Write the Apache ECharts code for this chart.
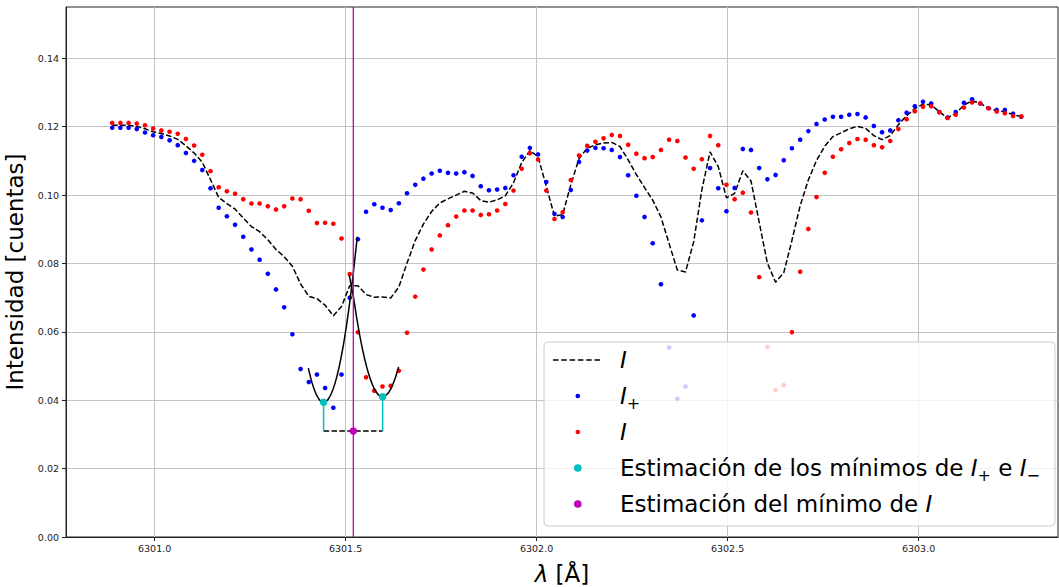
<!DOCTYPE html>
<html>
<head>
<meta charset="utf-8">
<script src="https://cdn.jsdelivr.net/npm/echarts@6.0.0/dist/echarts.min.js"></script>
<style>
  html, body { margin: 0; padding: 0; background: #fff; }
  #chart { width: 1059px; height: 587px; }
</style>
</head>
<body>
<div id="chart"></div>
<script>
// ---- data ----
const wavelengths = [
  6300.8890, 6300.9104, 6300.9319, 6300.9533, 6300.9748, 6300.9962,
  6301.0176, 6301.0391, 6301.0605, 6301.0820, 6301.1034, 6301.1248, 6301.1463, 6301.1677, 6301.1892, 6301.2106,
  6301.2320, 6301.2535, 6301.2749, 6301.2964, 6301.3178, 6301.3392, 6301.3607, 6301.3821, 6301.4036, 6301.4250,
  6301.4464, 6301.4679, 6301.4893, 6301.5108, 6301.5322, 6301.5536, 6301.5751, 6301.5965, 6301.6180, 6301.6394,
  6301.6608, 6301.6823, 6301.7037, 6301.7252, 6301.7466, 6301.7680, 6301.7895, 6301.8109, 6301.8324, 6301.8538,
  6301.8752, 6301.8967, 6301.9181, 6301.9396, 6301.9610, 6301.9824, 6302.0039, 6302.0253, 6302.0468, 6302.0682,
  6302.0896, 6302.1111, 6302.1325, 6302.1540, 6302.1754, 6302.1968, 6302.2183, 6302.2397, 6302.2612, 6302.2826,
  6302.3040, 6302.3255, 6302.3469, 6302.3684, 6302.3898, 6302.4112, 6302.4327, 6302.4541, 6302.4756, 6302.4970,
  6302.5184, 6302.5399, 6302.5613, 6302.5828, 6302.6042, 6302.6256, 6302.6471, 6302.6685, 6302.6900, 6302.7114,
  6302.7328, 6302.7543, 6302.7757, 6302.7972, 6302.8186, 6302.8400, 6302.8615, 6302.8829, 6302.9044, 6302.9258,
  6302.9472, 6302.9687, 6302.9901, 6303.0116, 6303.0330, 6303.0544, 6303.0759, 6303.0973, 6303.1188, 6303.1402,
  6303.1616, 6303.1831, 6303.2045, 6303.2260, 6303.2474, 6303.2688
];

const intensityPlus = [
  0.1197, 0.1197, 0.1197, 0.1193, 0.1183, 0.1175, 0.1170, 0.1160, 0.1146, 0.1123,
  0.1100, 0.1073, 0.1020, 0.0963, 0.0938, 0.0913, 0.0878, 0.0841, 0.0811, 0.0770,
  0.0724, 0.0672, 0.0593, 0.0491, 0.0453, 0.0475, 0.0436, 0.0378, 0.0475, 0.0700,
  0.0871, 0.0951, 0.0973, 0.0963, 0.0956, 0.0976, 0.1005, 0.1030, 0.1048, 0.1063,
  0.1071, 0.1065, 0.1063, 0.1067, 0.1056, 0.1026, 0.1014, 0.1016, 0.1021, 0.1058,
  0.1112, 0.1138, 0.1119, 0.1038, 0.0945, 0.0936, 0.1015, 0.1097, 0.1130, 0.1138,
  0.1137, 0.1132, 0.1111, 0.1058, 0.0998, 0.0936, 0.0859, 0.0739, 0.0554, 0.0404,
  0.0440, 0.0648, 0.0926, 0.1079, 0.1020, 0.0953, 0.1021, 0.1135, 0.1132, 0.1079,
  0.1046, 0.1059, 0.1102, 0.1137, 0.1162, 0.1187, 0.1208, 0.1221, 0.1229, 0.1229,
  0.1235, 0.1237, 0.1227, 0.1202, 0.1184, 0.1189, 0.1219, 0.1241, 0.1260, 0.1273,
  0.1268, 0.1243, 0.1227, 0.1243, 0.1270, 0.1280, 0.1268, 0.1254, 0.1249, 0.1249,
  0.1238, 0.1229
];

const intensityMinus = [
  0.1211, 0.1211, 0.1211, 0.1209, 0.1204, 0.1195, 0.1189, 0.1185, 0.1179, 0.1164,
  0.1145, 0.1118, 0.1070, 0.1023, 0.1011, 0.1004, 0.0988, 0.0975, 0.0975, 0.0967,
  0.0958, 0.0967, 0.0990, 0.0988, 0.0954, 0.0918, 0.0919, 0.0916, 0.0873, 0.0769,
  0.0599, 0.0467, 0.0428, 0.0440, 0.0442, 0.0486, 0.0597, 0.0703, 0.0782, 0.0841,
  0.0882, 0.0912, 0.0937, 0.0955, 0.0955, 0.0942, 0.0944, 0.0955, 0.0974, 0.1013,
  0.1077, 0.1122, 0.1104, 0.1013, 0.0930, 0.0950, 0.1044, 0.1116, 0.1144, 0.1156,
  0.1166, 0.1176, 0.1173, 0.1147, 0.1121, 0.1108, 0.1111, 0.1132, 0.1162, 0.1158,
  0.1110, 0.1077, 0.1105, 0.1173, 0.1146, 0.1030, 0.0988, 0.1007, 0.0949, 0.0760,
  0.0556, 0.0430, 0.0444, 0.0599, 0.0776, 0.0901, 0.0994, 0.1065, 0.1112, 0.1134,
  0.1152, 0.1164, 0.1162, 0.1146, 0.1140, 0.1158, 0.1193, 0.1222, 0.1245, 0.1258,
  0.1260, 0.1242, 0.1225, 0.1235, 0.1256, 0.1271, 0.1268, 0.1254, 0.1244, 0.1239,
  0.1231, 0.1230
];

const intensityMean = [
  0.1204, 0.1204, 0.1204, 0.1201, 0.1194, 0.1185, 0.1180, 0.1173, 0.1163, 0.1144,
  0.1123, 0.1096, 0.1045, 0.0993, 0.0975, 0.0959, 0.0933, 0.0908, 0.0893, 0.0869,
  0.0841, 0.0820, 0.0792, 0.0740, 0.0704, 0.0697, 0.0678, 0.0647, 0.0674, 0.0735,
  0.0735, 0.0709, 0.0701, 0.0702, 0.0699, 0.0731, 0.0801, 0.0867, 0.0915, 0.0952,
  0.0977, 0.0989, 0.1000, 0.1011, 0.1006, 0.0984, 0.0979, 0.0986, 0.0998, 0.1036,
  0.1095, 0.1130, 0.1112, 0.1026, 0.0938, 0.0943, 0.1030, 0.1107, 0.1137, 0.1147,
  0.1152, 0.1154, 0.1142, 0.1103, 0.1060, 0.1022, 0.0985, 0.0936, 0.0858, 0.0781,
  0.0775, 0.0863, 0.1016, 0.1126, 0.1083, 0.0992, 0.1005, 0.1071, 0.1041, 0.0920,
  0.0801, 0.0745, 0.0773, 0.0868, 0.0969, 0.1044, 0.1101, 0.1143, 0.1171, 0.1182,
  0.1194, 0.1201, 0.1195, 0.1174, 0.1162, 0.1174, 0.1206, 0.1232, 0.1253, 0.1266,
  0.1264, 0.1243, 0.1226, 0.1239, 0.1263, 0.1276, 0.1268, 0.1254, 0.1247, 0.1244,
  0.1235, 0.1230
];

// fitted curves around the two minima
const fitPlusLambda = [6301.4024, 6301.4124, 6301.4224, 6301.4324, 6301.4424, 6301.4524, 6301.4624,
                       6301.4724, 6301.4824, 6301.4924, 6301.5024, 6301.5124, 6301.5224, 6301.5304];
const fitPlusValue  = [0.0494, 0.0450, 0.0419, 0.0400, 0.0394, 0.0400, 0.0419,
                       0.0450, 0.0494, 0.0550, 0.0619, 0.0700, 0.0794, 0.0878];
const fitMinusLambda = [6301.5094, 6301.5200, 6301.5300, 6301.5400, 6301.5500, 6301.5600, 6301.5700,
                        6301.5800, 6301.5900, 6301.5969, 6301.6100, 6301.6200, 6301.6300, 6301.6387];
const fitMinusValue  = [0.0766, 0.0705, 0.0634, 0.0572, 0.0520, 0.0478, 0.0446,
                        0.0424, 0.0412, 0.0410, 0.0419, 0.0437, 0.0465, 0.0497];

// estimated minima
const minPMLambda = [6301.4424, 6301.5969];
const minPMValue  = [0.0394, 0.0410];
const minILambda = 6301.5202;
const minIValue  = 0.0310;

// axes
const xTicks = [6301.0, 6301.5, 6302.0, 6302.5, 6303.0];
const yTicks = [0.00, 0.02, 0.04, 0.06, 0.08, 0.10, 0.12, 0.14];
const xMin = 6300.768, xMax = 6303.365;
const yMin = 0, yMax = 0.155;

// legend labels
const legendNames = ['Imean', 'Iplus', 'Iminus', 'minPM', 'minI'];
const legendLabels = {
  Imean: '{it|I}',
  Iplus: '{it|I}{sub|+}',
  Iminus: '{it|I}',
  minPM: 'Estimación de los mínimos de {it|I}{sub|+} e {it|I}{sub|−}',
  minI: 'Estimación del mínimo de {it|I}'
};

// ---- build chart ----
const pairs = (xs, ys) => xs.map((x, i) => [x, ys[i]]);
const FONT = 'DejaVu Sans';

const dotSmall = 'path://M0 0M62 30M22.5 15a2.3 2.3 0 1 0 4.6 0a2.3 2.3 0 1 0 -4.6 0z';
const dotBig = 'path://M0 0M62 30M21 15a3.8 3.8 0 1 0 7.6 0a3.8 3.8 0 1 0 -7.6 0z';
const dashIcon = 'path://M0 0M62 30M0 14.25h5.5v1.5h-5.5zM8.3 14.25h5.5v1.5h-5.5zM16.6 14.25h5.5v1.5h-5.5z' +
                 'M24.9 14.25h5.5v1.5h-5.5zM33.2 14.25h5.5v1.5h-5.5zM41.5 14.25h5.5v1.5h-5.5z';

const chart = echarts.init(document.getElementById('chart'), null, { renderer: 'svg' });

const option = {
  animation: false,
  backgroundColor: '#ffffff',
  grid: {
    left: 66, right: 1, top: 7, bottom: 50,
    containLabel: false, outerBoundsMode: 'none',
    show: true, borderColor: '#222', borderWidth: 1, backgroundColor: 'transparent'
  },
  xAxis: {
    type: 'value', min: xMin, max: xMax,
    name: '{it|λ} [Å]', nameLocation: 'middle', nameGap: 25,
    nameTextStyle: {
      fontFamily: FONT, fontSize: 23, color: '#000',
      rich: { it: { fontFamily: FONT, fontSize: 23, fontStyle: 'italic', color: '#000' } }
    },
    axisLine: { show: true, lineStyle: { color: '#222', width: 1 } },
    axisTick: { show: true, inside: false, length: 4, customValues: xTicks, lineStyle: { color: '#222' } },
    axisLabel: {
      customValues: xTicks, margin: 6, fontFamily: FONT, fontSize: 9.5, color: '#222',
      formatter: v => Number(v).toFixed(1)
    },
    splitLine: { show: true, lineStyle: { color: '#c4c4c4', width: 1 } }
  },
  yAxis: {
    type: 'value', min: yMin, max: yMax,
    name: 'Intensidad [cuentas]', nameLocation: 'middle', nameGap: 29, nameRotate: 90,
    nameTextStyle: { fontFamily: FONT, fontSize: 23, color: '#000' },
    axisLine: { show: true, lineStyle: { color: '#222', width: 1 } },
    axisTick: { show: true, inside: false, length: 4, customValues: yTicks, lineStyle: { color: '#222' } },
    axisLabel: {
      customValues: yTicks, margin: 7, fontFamily: FONT, fontSize: 9.5, color: '#222',
      formatter: v => Number(v).toFixed(2)
    },
    splitLine: { show: true, lineStyle: { color: '#c4c4c4', width: 1 } }
  },
  legend: {
    orient: 'vertical', left: 544, top: 342,
    itemWidth: 62, itemHeight: 30, itemGap: 6,
    padding: [3, 15, 7, 9],
    backgroundColor: 'rgba(255,255,255,0.8)',
    borderColor: '#cccccc', borderWidth: 1, borderRadius: 4,
    selectedMode: false,
    data: [
      { name: 'Imean', icon: dashIcon, itemStyle: { color: '#000', borderWidth: 0 } },
      { name: 'Iplus', icon: dotSmall, itemStyle: { color: '#0000ff', borderWidth: 0 } },
      { name: 'Iminus', icon: dotSmall, itemStyle: { color: '#ff0000', borderWidth: 0 } },
      { name: 'minPM', icon: dotBig, itemStyle: { color: '#00bfbf', borderWidth: 0 } },
      { name: 'minI', icon: dotBig, itemStyle: { color: '#bf00bf', borderWidth: 0 } }
    ],
    formatter: name => legendLabels[name],
    textStyle: {
      fontFamily: FONT, fontSize: 23, color: '#000', lineHeight: 30,
      rich: {
        it: { fontFamily: FONT, fontSize: 23, fontStyle: 'italic', color: '#000', lineHeight: 30 },
        sub: { fontFamily: FONT, fontSize: 16, color: '#000', lineHeight: 20, verticalAlign: 'bottom' }
      }
    }
  },
  series: [
    {
      name: 'Imean', type: 'line', data: pairs(wavelengths, intensityMean),
      symbol: 'none', z: 2,
      lineStyle: { color: '#000', width: 1.5, type: [5.5, 2.4] },
      itemStyle: { color: '#000' }
    },
    {
      name: 'Iplus', type: 'scatter', data: pairs(wavelengths, intensityPlus),
      symbol: 'circle', symbolSize: 4.6, z: 3,
      itemStyle: { color: '#0000ff', opacity: 1 }
    },
    {
      name: 'Iminus', type: 'scatter', data: pairs(wavelengths, intensityMinus),
      symbol: 'circle', symbolSize: 4.6, z: 3,
      itemStyle: { color: '#ff0000', opacity: 1 }
    },
    {
      name: 'fitPlus', type: 'line', data: pairs(fitPlusLambda, fitPlusValue),
      symbol: 'none', smooth: 0.3, z: 4,
      lineStyle: { color: '#000', width: 1.5 }
    },
    {
      name: 'fitMinus', type: 'line', data: pairs(fitMinusLambda, fitMinusValue),
      symbol: 'none', smooth: 0.3, z: 4,
      lineStyle: { color: '#000', width: 1.5 }
    },
    {
      name: 'connector', type: 'line',
      data: [[minPMLambda[0], minIValue], [minPMLambda[1], minIValue]],
      symbol: 'none', z: 4,
      lineStyle: { color: '#000', width: 1.5, type: [5.5, 2.4] }
    },
    {
      name: 'stemPlus', type: 'line',
      data: [[minPMLambda[0], minPMValue[0]], [minPMLambda[0], minIValue]],
      symbol: 'none', z: 4,
      lineStyle: { color: '#00bfbf', width: 1.5 }
    },
    {
      name: 'stemMinus', type: 'line',
      data: [[minPMLambda[1], minPMValue[1]], [minPMLambda[1], minIValue]],
      symbol: 'none', z: 4,
      lineStyle: { color: '#00bfbf', width: 1.5 }
    },
    {
      name: 'vline', type: 'line',
      data: [[minILambda, yMin], [minILambda, yMax]],
      symbol: 'none', z: 5,
      lineStyle: { color: '#bf00bf', width: 1.3 }
    },
    {
      name: 'minPM', type: 'scatter', data: pairs(minPMLambda, minPMValue),
      symbol: 'circle', symbolSize: 7.5, z: 6,
      itemStyle: { color: '#00bfbf', opacity: 1 }
    },
    {
      name: 'minI', type: 'scatter', data: [[minILambda, minIValue]],
      symbol: 'circle', symbolSize: 7.5, z: 6,
      itemStyle: { color: '#bf00bf', opacity: 1 }
    }
  ]
};

chart.setOption(option);
</script>
</body>
</html>
